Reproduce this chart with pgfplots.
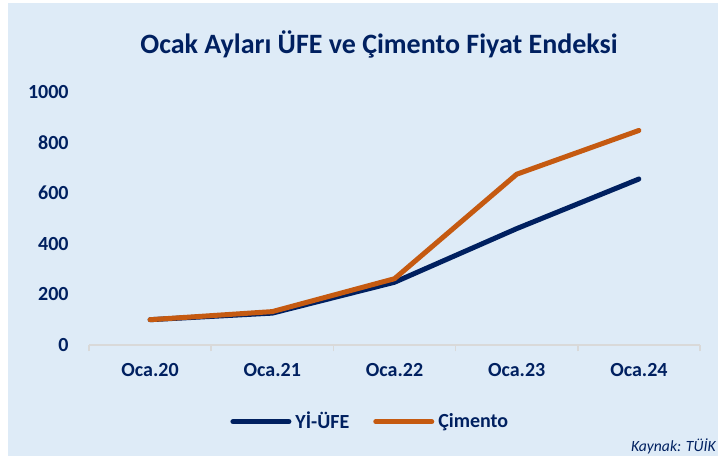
\documentclass[border=0pt]{standalone}
\usepackage{pgfplots}
\pgfplotsset{compat=1.18}
\usepackage{fontspec}
\setmainfont{Carlito}
\definecolor{bg}{RGB}{222,235,247}
\definecolor{navy}{RGB}{0,32,96}
\definecolor{orng}{RGB}{197,90,17}
\definecolor{txt}{RGB}{0,32,96}
\definecolor{axgray}{RGB}{217,217,217}
\begin{document}
\begin{tikzpicture}
\useasboundingbox (0,0) rectangle (359pt,228pt);
\fill[white] (0,0) rectangle (359pt,228pt);
\fill[bg] (4pt,0) rectangle (359pt,226.5pt);
\node[text=txt, font=\fontsize{14}{16}\selectfont\bfseries] at (189.5pt,206pt) {Ocak Ayları ÜFE ve Çimento Fiyat Endeksi};
\node[text=txt, font=\fontsize{7.8}{9}\selectfont\itshape, anchor=east, inner sep=0pt] at (358pt,5pt) {Kaynak: TÜİK};
\begin{axis}[
  at={(44.5pt,55.5pt)}, anchor=south west,
  scale only axis, width=305.5pt, height=126.5pt,
  xmin=-0.5, xmax=4.5, ymin=0, ymax=1000,
  clip=false,
  axis x line*=bottom, axis y line*=left,
  y axis line style={draw=none},
  x axis line style={draw=axgray, line width=0.8pt},
  xtick={0,1,2,3,4}, xticklabels={Oca.20,Oca.21,Oca.22,Oca.23,Oca.24},
  minor xtick={-0.5,0.5,1.5,2.5,3.5,4.5},
  ytick={0,200,400,600,800,1000},
  major tick length=0pt,
  minor tick length=3pt,
  tick align=outside,
  minor tick style={draw=axgray, line width=0.8pt},
  /pgf/number format/assume math mode=true,
  /pgf/number format/1000 sep={},
  ticklabel style={text=txt, font=\fontsize{10}{12}\selectfont\bfseries},
  yticklabel style={anchor=east, inner sep=0pt, xshift=-10pt},
  xticklabel style={anchor=center, inner sep=0pt, yshift=-12.5pt},
  legend style={at={(0.462,-0.303)}, anchor=center, draw=none, fill=none,
    legend columns=2, font=\fontsize{10}{12}\selectfont\bfseries, text=txt,
    /tikz/every even column/.append style={column sep=10pt}},
  legend image code/.code={\draw[#1] (0pt,0pt) -- (28pt,0pt);},
  legend cell align=left,
]
\addplot[navy, line width=2.5pt, line cap=round, line join=round] coordinates {(0,100)(1,126)(2,248)(3,460)(4,656)};
\addlegendentry{Yİ-ÜFE}
\addplot[orng, line width=2.5pt, line cap=round, line join=round] coordinates {(0,100)(1,132)(2,262)(3,675)(4,848)};
\addlegendentry{Çimento}
\end{axis}
\end{tikzpicture}
\end{document}
